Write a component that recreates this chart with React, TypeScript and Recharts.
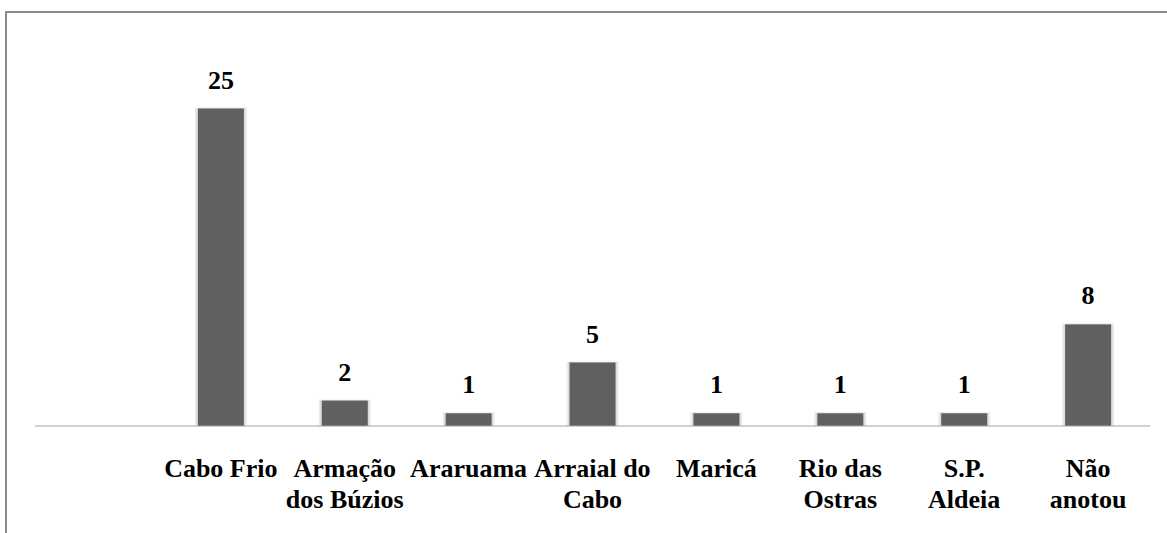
import React from 'react'
import { Bar, BarChart, LabelList, XAxis, YAxis } from 'recharts'

// first slot is left empty in the original
const categories = ['', 'Cabo Frio', 'Armação\ndos Búzios', 'Araruama', 'Arraial do\nCabo', 'Maricá', 'Rio das\nOstras', 'S.P.\nAldeia', 'Não\nanotou']
const counts = [null, 25, 2, 1, 5, 1, 1, 1, 8]

const data = categories.map((name, i) => ({ name, value: counts[i] }))

const font = '"Liberation Serif", "Times New Roman", serif'

function CategoryTick(props: any) {
  const { x, y, payload } = props
  const lines = String(payload.value).split('\n')
  return (
    <text x={x} y={y} textAnchor="middle" fill="#000" fontFamily={font} fontWeight="bold" fontSize={26}>
      {lines.map((l, i) => (
        <tspan key={i} x={x} y={y + 51 + i * 31}>{l}</tspan>
      ))}
    </text>
  )
}

function ShadowBar(props: any) {
  const { x, y, width, height } = props
  if (!height || height <= 0) return null
  return (
    <g>
      <rect x={x - 3} y={y - 1} width={width + 6} height={height + 1} fill="#ececec" />
      <rect x={x - 1.5} y={y - 0.5} width={width + 3} height={height + 0.5} fill="#dcdcdc" />
      <rect x={x} y={y} width={width} height={height} fill="#606060" />
    </g>
  )
}

export default function App() {
  return (
    <div style={{ position: 'absolute', left: 0, top: 0, width: 1167, height: 533, overflow: 'hidden', background: '#fff' }}>
      <div style={{ position: 'absolute', left: 5, top: 11, width: 1200, height: 600, borderTop: '2px solid #8a8a8a', borderLeft: '2px solid #8a8a8a' }} />
      <div style={{ position: 'absolute', left: 0, top: 0 }}>
        <BarChart width={1167} height={533} data={data} margin={{ top: 45, right: 17, left: 35, bottom: 0 }}>
          <XAxis
            dataKey="name"
            height={107}
            interval={0}
            tickLine={false}
            tickSize={0}
            tickMargin={0}
            axisLine={{ stroke: '#a3a3a3', strokeWidth: 1 }}
            tick={<CategoryTick />}
          />
          <YAxis hide domain={[0, 30]} />
          <Bar dataKey="value" barSize={46} shape={<ShadowBar />} isAnimationActive={false}>
            <LabelList dataKey="value" position="top" offset={20} fill="#000" fontFamily={font} fontWeight="bold" fontSize={26} />
          </Bar>
        </BarChart>
      </div>
    </div>
  )
}
